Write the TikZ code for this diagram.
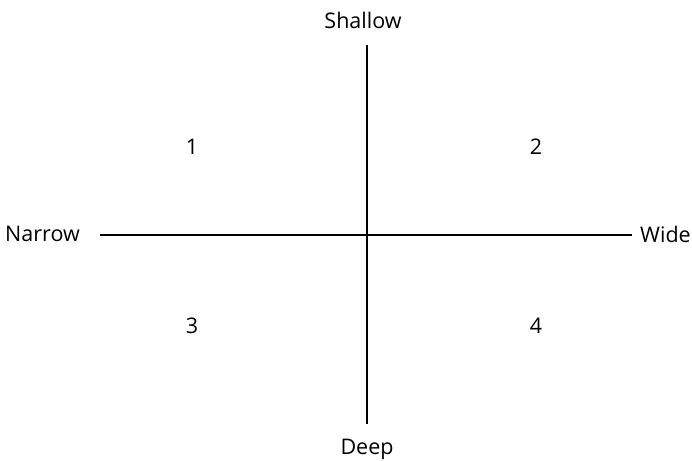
\documentclass[tikz,border=0pt]{standalone}
\usepackage{fontspec}
\setmainfont{Open Sans}
\begin{document}
\begin{tikzpicture}[x=1pt,y=-1pt,
  lbl/.style={font=\fontsize{21.5}{25}\selectfont, inner sep=0pt},
  axis/.style={line width=1.4pt}]
\useasboundingbox (0,0) rectangle (692,460);
\node[lbl] (shallow) at (363,20) {Shallow};
\node[lbl] (deep) at (367,449) {Deep};
\node[lbl, anchor=east] (narrow) at (80,234) {Narrow};
\node[lbl, anchor=west] (wide) at (640,234) {Wide};
\coordinate (top) at (367,45);
\coordinate (bot) at (367,424);
\coordinate (left) at (100,235);
\coordinate (right) at (632,235);
\draw[axis] (top) -- (bot);
\draw[axis] (left) -- (right);
\node[lbl] (q1) at (192,147) {1};
\node[lbl] (q2) at (536,147) {2};
\node[lbl] (q3) at (192,326) {3};
\node[lbl] (q4) at (536,326) {4};
\end{tikzpicture}
\end{document}
